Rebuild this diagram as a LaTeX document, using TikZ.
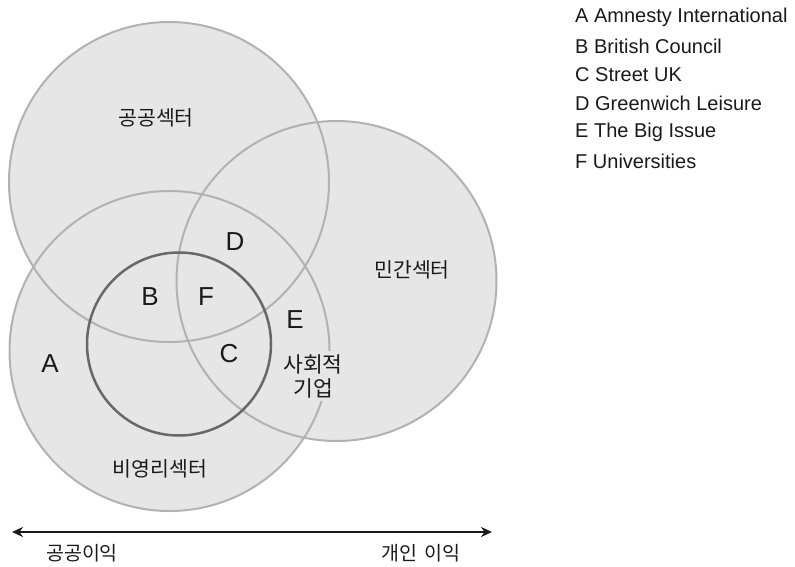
\documentclass[tikz,border=0pt]{standalone}
\usepackage{fontspec}
\setmainfont{Noto Sans CJK KR}
\newfontfamily\latinfont{Liberation Sans}
\usetikzlibrary{arrows.meta}
\definecolor{vfill}{HTML}{E6E6E6}
\definecolor{vline}{HTML}{B2B2B2}
\definecolor{vinner}{HTML}{686868}
\definecolor{txt}{HTML}{1A1A1A}
\begin{document}
\begin{tikzpicture}[x=1pt,y=-1pt,
  ring/.style={draw=vline,line width=2pt},
  innerring/.style={draw=vinner,line width=2.5pt},
  sector/.style={font=\fontsize{20.5}{24}\selectfont,text=txt,inner sep=1pt},
  letter/.style={font=\latinfont\fontsize{26}{28}\selectfont,text=txt,inner sep=0pt},
  legend/.style={font=\latinfont\fontsize{20}{22}\selectfont,text=txt,anchor=west,inner sep=0pt},
  axis/.style={font=\fontsize{19.5}{22}\selectfont,text=txt,inner sep=0pt}]
\useasboundingbox (0,0) rectangle (795,566);
% fills
\fill[vfill] (169,182) circle (160pt);
\fill[vfill] (336.5,281) circle (160pt);
\fill[vfill] (169.5,351) circle (160pt);
% borders
\draw[ring] (169,182) circle (160pt);
\draw[ring] (336.5,281) circle (160pt);
\draw[ring] (169.5,351) circle (160pt);
\draw[innerring] (179,344) ellipse (92pt and 91.5pt);
% sector labels
\node[sector] (pub) at (156,118) {공공섹터};
\node[sector] (priv) at (412,270) {민간섹터};
\node[sector] (npo) at (160,469) {비영리섹터};
\node[sector,fill=vfill,align=center,inner sep=3pt,font=\fontsize{21.5}{24}\selectfont] (se) at (313,376) {사회적\\기업};
% letters
\node[letter] (A) at (50,364) {A};
\node[letter] (B) at (150,297) {B};
\node[letter] (F) at (206,297) {F};
\node[letter] (D) at (235,242) {D};
\node[letter] (E) at (295,320) {E};
\node[letter] (C) at (229,354) {C};
% legend
\node[legend] (lA) at (575,17) {A Amnesty International};
\node[legend] (lB) at (575,46) {B British Council};
\node[legend] (lC) at (575,74.5) {C Street UK};
\node[legend] (lD) at (575,103) {D Greenwich Leisure};
\node[legend] (lE) at (575,132) {E The Big Issue};
\node[legend] (lF) at (575,161) {F Universities};
% axis
\coordinate (L) at (12,532);
\coordinate (R) at (492,532);
\draw[line width=2.5pt,color=txt,{Stealth[length=11pt,width=10pt]}-{Stealth[length=11pt,width=10pt]}] (L) -- (R);
\node[axis] (pg) at (82,553) {공공이익};
\node[axis] (pr) at (421,553) {개인\hspace{0.35em}이익};
\end{tikzpicture}
\end{document}
